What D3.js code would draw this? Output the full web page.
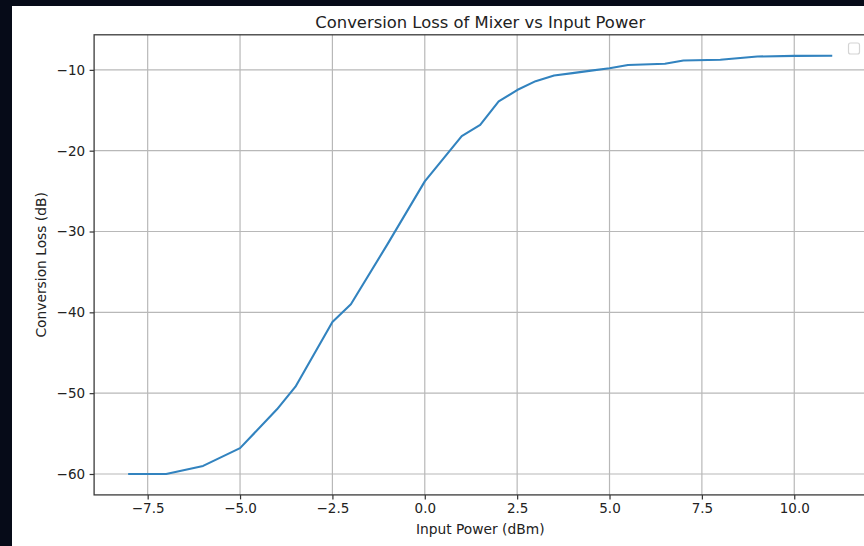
<!DOCTYPE html>
<html>
<head>
<meta charset="utf-8">
<script src="https://cdn.jsdelivr.net/npm/d3@7"></script>
<style>
  html, body { margin: 0; padding: 0; background: #060b18; }
  svg { display: block; }
  text { font-family: "DejaVu Sans", sans-serif; fill: #222; }
</style>
</head>
<body>
<svg id="chart" width="864" height="546"></svg>
<script>
const inputPower = [-8, -7, -6, -5, -4, -3.5, -2.5, -2, -1, 0, 1, 1.5, 2, 2.5, 3, 3.5, 4, 4.5, 5, 5.5, 6.5, 7, 8, 9, 10, 11];
const conversionLoss = [-60, -60, -59, -56.8, -52, -49.2, -41.2, -39, -31.5, -23.8, -18.2, -16.8, -13.9, -12.5, -11.4, -10.7, -10.4, -10.1, -9.8, -9.4, -9.25, -8.85, -8.75, -8.35, -8.27, -8.25];
const xTicks = [-7.5, -5.0, -2.5, 0.0, 2.5, 5.0, 7.5, 10.0];
const yTicks = [-60, -50, -40, -30, -20, -10];
const titleText = "Conversion Loss of Mixer vs Input Power";
const xLabelText = "Input Power (dBm)";
const yLabelText = "Conversion Loss (dB)";

const svg = d3.select("#chart");
svg.append("rect").attr("x", 12).attr("y", 6).attr("width", 852).attr("height", 540).attr("fill", "#ffffff");

const plot = { left: 94.1, right: 866.3, top: 34.8, bottom: 494.9 };

const xExt = d3.extent(inputPower), yExt = d3.extent(conversionLoss);
const xPad = (xExt[1] - xExt[0]) * 0.05, yPad = (yExt[1] - yExt[0]) * 0.05;
const x = d3.scaleLinear().domain([xExt[0] - xPad, xExt[1] + xPad]).range([plot.left, plot.right]);
const y = d3.scaleLinear().domain([yExt[0] - yPad, yExt[1] + yPad]).range([plot.bottom, plot.top]);

const g = svg.append("g");
g.append("g").selectAll("line").data(xTicks).join("line")
  .attr("x1", d => x(d)).attr("x2", d => x(d)).attr("y1", plot.top).attr("y2", plot.bottom)
  .attr("stroke", "#b8b8b8").attr("stroke-width", 1.2);
g.append("g").selectAll("line").data(yTicks).join("line")
  .attr("x1", plot.left).attr("x2", plot.right).attr("y1", d => y(d)).attr("y2", d => y(d))
  .attr("stroke", "#b8b8b8").attr("stroke-width", 1.2);

const line = d3.line().x((d, i) => x(inputPower[i])).y(d => y(d));
g.append("path").datum(conversionLoss).attr("d", line)
  .attr("fill", "none").attr("stroke", "#3283bf").attr("stroke-width", 2.1)
  .attr("stroke-linejoin", "round").attr("stroke-linecap", "square");

const fmtX = d => d3.format(".1f")(d).replace("-", "\u2212");
const fmtY = d => String(d).replace("-", "\u2212");
const xAxis = d3.axisBottom(x).tickValues(xTicks).tickFormat(fmtX).tickSize(4.5).tickPadding(4.5);
const yAxis = d3.axisLeft(y).tickValues(yTicks).tickFormat(fmtY).tickSize(4.5).tickPadding(4.5);
const gx = svg.append("g").attr("transform", `translate(0,${plot.bottom})`).call(xAxis);
const gy = svg.append("g").attr("transform", `translate(${plot.left},0)`).call(yAxis);
[gx, gy].forEach(a => {
  a.select(".domain").remove();
  a.selectAll(".tick line").attr("stroke", "#333").attr("stroke-width", 1.2);
  a.selectAll(".tick text").attr("fill", "#2a2a2a").style("font-size", "13.5px").style("font-family", "DejaVu Sans, sans-serif");
});

svg.append("rect").attr("x", plot.left).attr("y", plot.top)
  .attr("width", plot.right - plot.left).attr("height", plot.bottom - plot.top)
  .attr("fill", "none").attr("stroke", "#3a3a3a").attr("stroke-width", 1.3);

svg.append("rect").attr("x", 848.5).attr("y", 43).attr("width", 11).attr("height", 11).attr("rx", 2)
  .attr("fill", "#fff").attr("stroke", "#d4d4d4").attr("stroke-width", 1.2);

svg.append("text").attr("x", (plot.left + plot.right) / 2).attr("y", 28)
  .attr("text-anchor", "middle").style("font-size", "16.4px").attr("fill", "#222").text(titleText);
svg.append("text").attr("x", (plot.left + plot.right) / 2).attr("y", 534)
  .attr("text-anchor", "middle").style("font-size", "13.8px").attr("fill", "#2a2a2a").text(xLabelText);
svg.append("text").attr("transform", `translate(46,${(plot.top + plot.bottom) / 2}) rotate(-90)`)
  .attr("text-anchor", "middle").style("font-size", "13.8px").attr("fill", "#2a2a2a").text(yLabelText);
</script>
</body>
</html>
